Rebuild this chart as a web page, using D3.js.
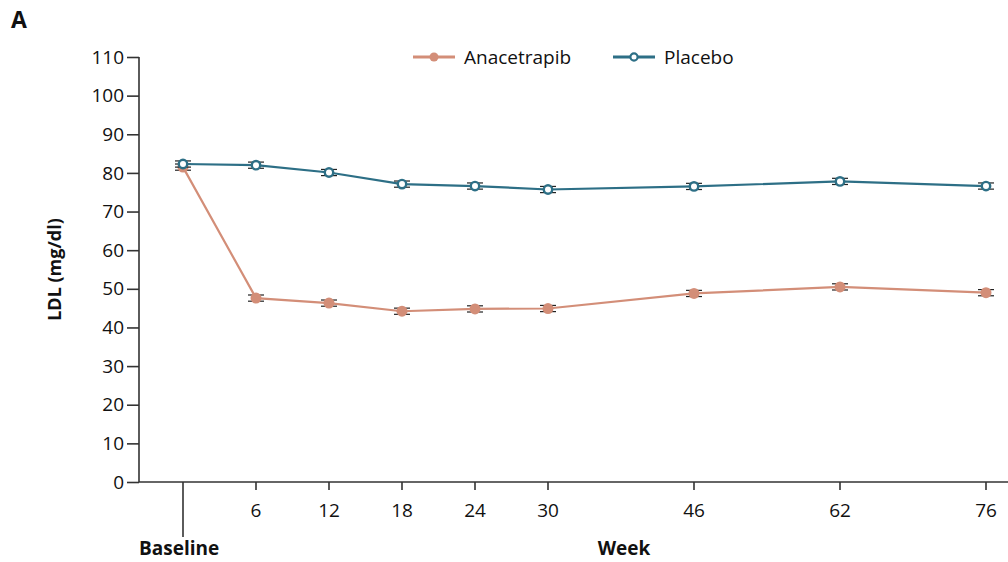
<!DOCTYPE html>
<html>
<head>
<meta charset="utf-8">
<script src="https://cdn.jsdelivr.net/npm/d3@7"></script>
<style>
  body { margin: 0; background: #fff; }
  svg text { font-family: "Open Sans", "DejaVu Sans", sans-serif; fill: #111; }
</style>
</head>
<body>
<div id="chart"></div>
<script>
// week labels and the slot each sits in along the axis (gaps after week 30)
var weekLabels = ["Baseline", "6", "12", "18", "24", "30", "46", "62", "76"];
var weekSlots  = [0, 1, 2, 3, 4, 5, 7, 9, 11];

var anacetrapib = [81.5, 47.6, 46.3, 44.2, 44.8, 44.9, 48.8, 50.5, 49.0];
var anacetrapibSE = [0.8, 0.8, 0.8, 0.8, 0.8, 0.8, 0.8, 0.8, 0.8];
var placebo = [82.3, 82.0, 80.1, 77.1, 76.6, 75.7, 76.5, 77.8, 76.6];
var placeboSE = [0.8, 0.8, 0.8, 0.8, 0.8, 0.8, 0.8, 0.8, 0.8];

var yTicks = [0, 10, 20, 30, 40, 50, 60, 70, 80, 90, 100, 110];

var width = 1008, height = 562;
var salmon = "#d38e78", teal = "#2d6f86";

var svg = d3.select("#chart").append("svg")
    .attr("width", width).attr("height", height);

var x = d3.scaleLinear().domain([0, 11]).range([183, 986]);
var y = d3.scaleLinear().domain([0, 110]).range([482, 57]);

// panel letter
svg.append("text").attr("x", 11).attr("y", 28)
    .style("font-size", "23px").style("font-weight", "bold").text("A");

// y axis
var yAxis = svg.append("g").attr("transform", "translate(139,0)")
    .call(d3.axisLeft(y).tickValues(yTicks).tickSize(12).tickPadding(3));
yAxis.select(".domain").attr("stroke", "#333").attr("stroke-width", 1.6)
    .attr("d", "M0," + y(110) + "V" + y(0));
yAxis.selectAll(".tick line").attr("stroke", "#333").attr("stroke-width", 1.6);
yAxis.selectAll(".tick text").style("font-size", "19px").attr("fill", "#111");

svg.append("text")
    .attr("transform", "translate(61," + y(55) + ") rotate(-90)")
    .attr("text-anchor", "middle")
    .style("font-size", "18px").style("font-weight", "bold")
    .text("LDL (mg/dl)");

// x axis
svg.append("line").attr("x1", 139).attr("x2", width)
    .attr("y1", y(0)).attr("y2", y(0))
    .attr("stroke", "#333").attr("stroke-width", 1.6);

var xt = svg.selectAll(".xtick").data(weekLabels).enter().append("g")
    .attr("class", "xtick")
    .attr("transform", function(d, i) { return "translate(" + x(weekSlots[i]) + "," + y(0) + ")"; });
xt.append("line")
    .attr("y2", function(d, i) { return i === 0 ? 55 : 8; })
    .attr("stroke", "#333").attr("stroke-width", 1.6);
xt.filter(function(d, i) { return i > 0; }).append("text")
    .attr("y", 35).attr("text-anchor", "middle")
    .style("font-size", "19px").text(function(d) { return d; });

svg.append("text").attr("x", x(weekSlots[0]) - 44).attr("y", 555)
    .style("font-size", "19px").style("font-weight", "bold").text("Baseline");
svg.append("text").attr("x", 624).attr("y", 555).attr("text-anchor", "middle")
    .style("font-size", "19px").style("font-weight", "bold").text("Week");

// series
function drawSeries(vals, se, color, open) {
  var pts = vals.map(function(v, i) { return {x: weekSlots[i], v: v, se: se[i]}; });
  var line = d3.line().x(function(d) { return x(d.x); }).y(function(d) { return y(d.v); });
  svg.append("path").datum(pts).attr("d", line)
      .attr("fill", "none").attr("stroke", color).attr("stroke-width", 2.2);

  var eb = svg.append("g").selectAll("g").data(pts).enter().append("g");
  eb.append("line")
      .attr("x1", function(d) { return x(d.x); }).attr("x2", function(d) { return x(d.x); })
      .attr("y1", function(d) { return y(d.v + d.se); }).attr("y2", function(d) { return y(d.v - d.se); })
      .attr("stroke", "#222").attr("stroke-width", 1.2);
  [1, -1].forEach(function(s) {
    eb.append("line")
        .attr("x1", function(d) { return x(d.x) - 8; }).attr("x2", function(d) { return x(d.x) + 8; })
        .attr("y1", function(d) { return y(d.v + s * d.se); }).attr("y2", function(d) { return y(d.v + s * d.se); })
        .attr("stroke", "#222").attr("stroke-width", 1.2);
  });

  svg.append("g").selectAll("circle").data(pts).enter().append("circle")
      .attr("cx", function(d) { return x(d.x); })
      .attr("cy", function(d) { return y(d.v); })
      .attr("r", open ? 4.2 : 5.5)
      .attr("fill", open ? "#fff" : color)
      .attr("stroke", open ? color : "none")
      .attr("stroke-width", open ? 2.4 : 0);
}

drawSeries(anacetrapib, anacetrapibSE, salmon, false);
drawSeries(placebo, placeboSE, teal, true);

// legend
var legend = [
  {name: "Anacetrapib", color: salmon, open: false, x: 413},
  {name: "Placebo", color: teal, open: true, x: 613}
];
var lg = svg.selectAll(".lg").data(legend).enter().append("g")
    .attr("transform", function(d) { return "translate(" + d.x + ",57)"; });
lg.append("line").attr("x2", 42).attr("stroke", function(d) { return d.color; }).attr("stroke-width", 3);
lg.append("circle").attr("cx", 21)
    .attr("r", function(d) { return d.open ? 3.6 : 4.5; })
    .attr("fill", function(d) { return d.open ? "#fff" : d.color; })
    .attr("stroke", function(d) { return d.open ? d.color : "none"; })
    .attr("stroke-width", 2.2);
lg.append("text").attr("x", 51).attr("y", 7)
    .style("font-size", "19px").text(function(d) { return d.name; });
</script>
</body>
</html>
